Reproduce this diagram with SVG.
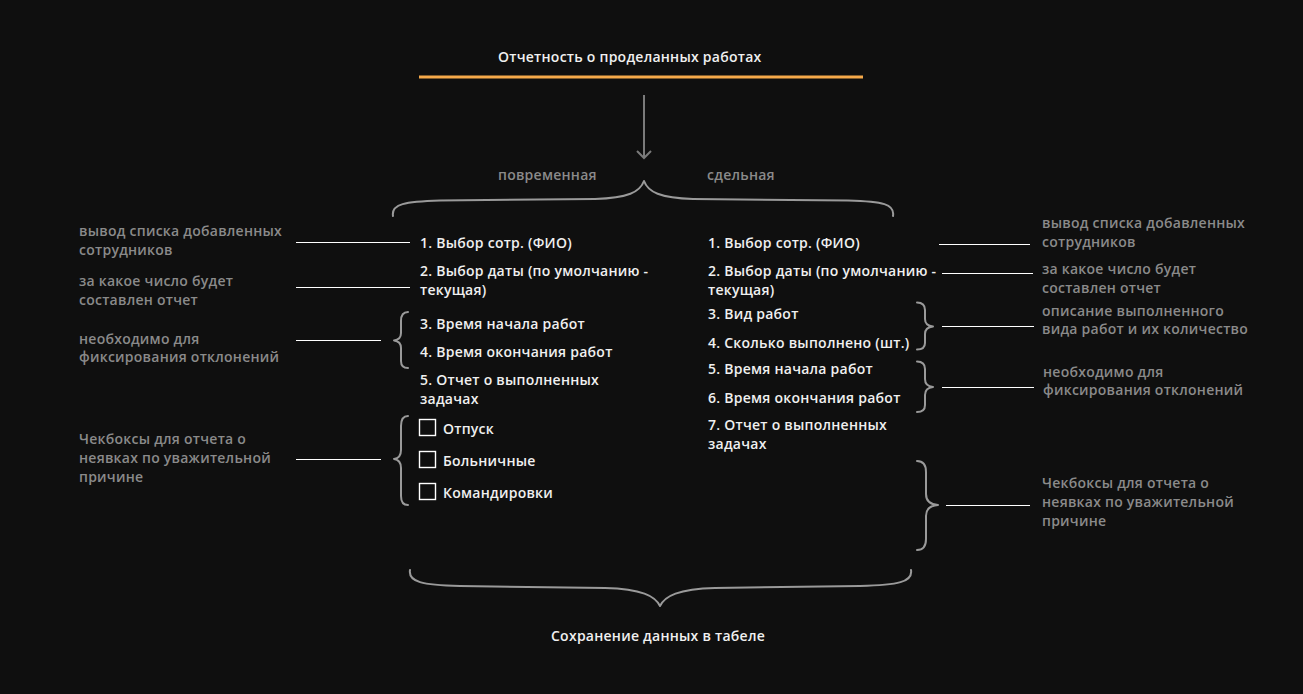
<svg xmlns="http://www.w3.org/2000/svg" width="1303" height="694" viewBox="0 0 1303 694">
<defs>
<style>
.w{font-family:"Open Sans","Liberation Sans",sans-serif;font-size:14px;font-weight:600;letter-spacing:0.25px;fill:#f0f0f0}
.g{font-family:"Open Sans","Liberation Sans",sans-serif;font-size:14px;font-weight:600;letter-spacing:0.25px;fill:#8a8a8a}
.br{fill:none;stroke:#9a9a9a;stroke-width:2;stroke-linecap:round;stroke-linejoin:round}
.ln{stroke:#ffffff;stroke-width:1}
.cb{fill:none;stroke:#ffffff;stroke-width:1.4}
</style>
</defs>
<rect width="1303" height="694" fill="#0f0f0f"/>

<g id="title">
<text class="w" x="498" y="62">Отчетность о проделанных работах</text>
<line x1="419" y1="77" x2="863" y2="77" stroke="#f5a94a" stroke-width="3"/>
</g>

<g id="types">
<text class="g" x="498" y="180">повременная</text>
<text class="g" x="707" y="180">сдельная</text>
</g>

<g id="left-items">
<text class="w" x="420" y="247.5">1. Выбор сотр. (ФИО)</text>
<text class="w" x="420" y="276">2. Выбор даты (по умолчанию -</text>
<text class="w" x="420" y="295">текущая)</text>
<text class="w" x="420" y="328.5">3. Время начала работ</text>
<text class="w" x="420" y="356.5">4. Время окончания работ</text>
<text class="w" x="420" y="385">5. Отчет о выполненных</text>
<text class="w" x="420" y="404">задачах</text>
<rect class="cb" x="419.5" y="419.5" width="16" height="16"/>
<text class="w" x="443" y="434">Отпуск</text>
<rect class="cb" x="419.5" y="451.5" width="16" height="16"/>
<text class="w" x="443" y="466">Больничные</text>
<rect class="cb" x="419.5" y="483.5" width="16" height="16"/>
<text class="w" x="443" y="498">Командировки</text>
</g>

<g id="right-items">
<text class="w" x="708" y="247.5">1. Выбор сотр. (ФИО)</text>
<text class="w" x="708" y="276">2. Выбор даты (по умолчанию -</text>
<text class="w" x="708" y="295">текущая)</text>
<text class="w" x="708" y="319">3. Вид работ</text>
<text class="w" x="708" y="347.5">4. Сколько выполнено (шт.)</text>
<text class="w" x="708" y="373.5">5. Время начала работ</text>
<text class="w" x="708" y="402.5">6. Время окончания работ</text>
<text class="w" x="708" y="430">7. Отчет о выполненных</text>
<text class="w" x="708" y="449">задачах</text>
</g>

<g id="left-notes">
<text class="g" x="79" y="236">вывод списка добавленных</text>
<text class="g" x="79" y="254.5">сотрудников</text>
<text class="g" x="79" y="286">за какое число будет</text>
<text class="g" x="79" y="305">составлен отчет</text>
<text class="g" x="79" y="344">необходимо для</text>
<text class="g" x="79" y="362">фиксирования отклонений</text>
<text class="g" x="79" y="443.5">Чекбоксы для отчета о</text>
<text class="g" x="79" y="462.5">неявках по уважительной</text>
<text class="g" x="79" y="482">причине</text>
</g>

<g id="right-notes">
<text class="g" x="1042" y="227.5">вывод списка добавленных</text>
<text class="g" x="1042" y="247">сотрудников</text>
<text class="g" x="1042" y="274">за какое число будет</text>
<text class="g" x="1042" y="293">составлен отчет</text>
<text class="g" x="1042" y="315.5">описание выполненного</text>
<text class="g" x="1042" y="334">вида работ и их количество</text>
<text class="g" x="1043" y="377">необходимо для</text>
<text class="g" x="1043" y="395">фиксирования отклонений</text>
<text class="g" x="1042" y="487.5">Чекбоксы для отчета о</text>
<text class="g" x="1042" y="506.5">неявках по уважительной</text>
<text class="g" x="1042" y="526">причине</text>
</g>

<g id="result">
<text class="w" x="551" y="640.5">Сохранение данных в табеле</text>
</g>

<g id="connectors">
<line x1="644" y1="95" x2="644" y2="157" stroke="#7a7a7a" stroke-width="2"/>
<polyline points="637,151 644,158 651,151" fill="none" stroke="#7a7a7a" stroke-width="2"/>
<path class="br" d="M393,216 C391,204 405,201.5 440,200.5 L595,199 C628,198 640,192 644,181 C648,192 660,198 693,199 L848,200.5 C883,201.5 895,204 893,216"/>
<path class="br" d="M410,570 C408,582 422,585 460,586 L605,588 C642,589 655,596 660,606 C665,596 678,589 715,588 L860,586 C898,585 913,582 911,570"/>
<path class="br" d="M408,312 C403,312 401,315 401,321 L401,333 C401,338 398,340 394,340.5 C398,341 401,343 401,348 L401,361 C401,366 403,368 408,368"/>
<path class="br" d="M408,416 C403,416 401,419 401,426 L401,450 C401,456 398,458.5 394,459 C398,459.5 401,462 401,468 L401,496 C401,502 403,505 408,505"/>
<path class="br" d="M917,302.5 C922,302.5 925,305 925,310 L925,319 C925,324 928,326 933,326.5 C928,327 925,329 925,334 L925,343 C925,348 922,349.5 917,349.5"/>
<path class="br" d="M917,361.5 C922,361.5 925,364 925,369 L925,379 C925,384 928,386.5 933,387 C928,387.5 925,390 925,395 L925,405 C925,410 922,412 917,412"/>
<path class="br" d="M917,461 C923,461 926,464 926,472 L926,494 C926,501 930,504.5 938,505 C930,505.5 926,509 926,516 L926,539 C926,547 923,550 917,550"/>
<line class="ln" x1="296" y1="242.5" x2="410" y2="242.5"/>
<line class="ln" x1="296" y1="287.5" x2="410" y2="287.5"/>
<line class="ln" x1="296" y1="340.5" x2="381" y2="340.5"/>
<line class="ln" x1="296" y1="459.5" x2="381" y2="459.5"/>
<line class="ln" x1="939" y1="244.5" x2="1030" y2="244.5"/>
<line class="ln" x1="942" y1="273.5" x2="1033" y2="273.5"/>
<line class="ln" x1="942" y1="326.5" x2="1034" y2="326.5"/>
<line class="ln" x1="942" y1="387.5" x2="1034" y2="387.5"/>
<line class="ln" x1="946" y1="505.5" x2="1030" y2="505.5"/>
</g>
</svg>
